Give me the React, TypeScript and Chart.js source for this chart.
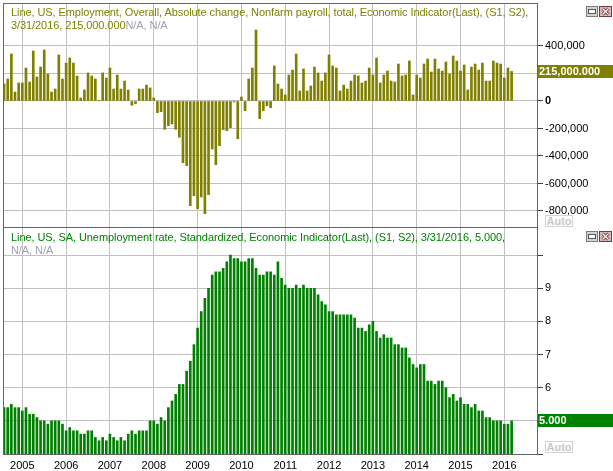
import React, { useEffect, useRef } from "react";
import { Chart, registerables } from "chart.js";

Chart.register(...registerables);

// ---------- data ----------
// Monthly series, Aug 2004 .. Mar 2016 (month index 0 = Jan 2005)
const FIRST_MONTH_INDEX = -5; // Aug 2004
const yearLabels = ["2005", "2006", "2007", "2008", "2009", "2010", "2011", "2012", "2013", "2014", "2015", "2016"];

// Nonfarm payroll absolute change (thousands)
const payrollK = [
  124, 160, 342, 65, 131,
  131, 240, 138, 364, 175, 247, 371, 196, 65, 87, 335, 160,
  276, 313, 276, 182, 22, 80, 204, 182, 160, 2, 204, 167,
  240, 87, 189, 87, 145, 80, -31, -20, 87, 87, 116, 95,
  22, -85, -78, -206, -180, -167, -206, -264, -449, -470, -761, -689,
  -783, -698, -820, -681, -349, -463, -325, -208, -216, -194, -7, -274,
  29, -70, 160, 240, 516, -129, -70, -34, -49, 255, 124, 87,
  44, 189, 225, 342, 73, 233, 73, 109, 247, 204, 145, 204,
  335, 255, 240, 73, 116, 87, 145, 189, 182, 131, 145, 240,
  189, 313, 131, 189, 218, 145, 138, 269, 182, 189, 291, 44,
  189, 167, 269, 305, 211, 305, 233, 218, 284, 196, 327, 291,
  218, 262, 80, 247, 269, 225, 276, 145, 145, 291, 276, 269,
  167, 240, 215,
];

// Unemployment rate (%)
const unemployment = [
  5.4, 5.4, 5.5, 5.4, 5.4,
  5.3, 5.4, 5.2, 5.2, 5.1, 5.0, 5.0, 4.9, 5.0, 5.0, 5.0, 4.9,
  4.7, 4.8, 4.7, 4.7, 4.6, 4.6, 4.7, 4.7, 4.5, 4.4, 4.5, 4.4,
  4.6, 4.5, 4.4, 4.5, 4.4, 4.6, 4.7, 4.6, 4.7, 4.7, 4.7, 5.0,
  5.0, 4.9, 5.1, 5.0, 5.4, 5.6, 5.8, 6.1, 6.1, 6.5, 6.8, 7.3,
  7.8, 8.3, 8.7, 9.0, 9.4, 9.5, 9.5, 9.6, 9.8, 10.0, 9.9, 9.9,
  9.8, 9.8, 9.9, 9.9, 9.6, 9.4, 9.4, 9.5, 9.5, 9.4, 9.8, 9.3,
  9.1, 9.0, 9.0, 9.1, 9.0, 9.1, 9.0, 9.0, 9.0, 8.8, 8.6, 8.5,
  8.3, 8.3, 8.2, 8.2, 8.2, 8.2, 8.2, 8.1, 7.8, 7.8, 7.7, 7.9,
  8.0, 7.7, 7.5, 7.6, 7.5, 7.5, 7.3, 7.3, 7.2, 7.2, 6.9, 6.7,
  6.6, 6.7, 6.7, 6.2, 6.2, 6.1, 6.2, 6.2, 6.0, 5.7, 5.8, 5.6,
  5.7, 5.5, 5.5, 5.4, 5.5, 5.3, 5.3, 5.1, 5.1, 5.0, 5.0, 5.0,
  4.9, 4.9, 5.0,
];

const payrollTicks = [-800000, -600000, -400000, -200000, 0, 200000, 400000];
const payrollHiddenTicks = [200000];
const unempTicks = [4, 5, 6, 7, 8, 9, 10];
const unempShownTicks = [6, 7, 8, 9];

const payrollHeader1 = "Line, US, Employment, Overall, Absolute change, Nonfarm payroll, total, Economic Indicator(Last), (S1, S2),";
const payrollHeader2a = "3/31/2016, 215,000.000";
const payrollHeader2b = "N/A, N/A";
const unempHeader1 = "Line, US, SA, Unemployment rate, Standardized, Economic Indicator(Last), (S1, S2), 3/31/2016, 5.000,";
const unempHeader2 = "N/A, N/A";
const payrollLastLabel = "215,000.000";
const unempLastLabel = "5.000";

// ---------- style ----------
const FONT = '"Liberation Sans", Arial, sans-serif';
const OLIVE = "#808000";
const GREEN = "#008000";
const GRID = "#c0c0c0";
const FRAME = "#646464";
const X_MIN = -5.29;
const X_MAX = 140.95;

const yearTickValues = yearLabels.map((_, i) => i * 12);

function frameAndBoxPlugin(value: number, label: string, color: string, drawTop: boolean) {
  return {
    id: "frameBox",
    afterDraw(chart: any) {
      const { ctx, chartArea: a } = chart;
      ctx.save();
      ctx.strokeStyle = FRAME;
      ctx.lineWidth = 1;
      ctx.beginPath();
      ctx.moveTo(a.left + 0.5, a.top);
      ctx.lineTo(a.left + 0.5, a.bottom);
      if (drawTop) {
        ctx.moveTo(a.left, a.top + 0.5);
        ctx.lineTo(a.right, a.top + 0.5);
      }
      ctx.stroke();
      const y = chart.scales.y.getPixelForValue(value);
      const top = Math.round(y - 6.5);
      ctx.fillStyle = color;
      ctx.fillRect(a.right + 1, top, chart.width - a.right - 1, 13);
      ctx.fillStyle = "#ffffff";
      ctx.font = "bold 11px " + FONT;
      ctx.textBaseline = "middle";
      ctx.textAlign = "left";
      ctx.fillText(label, a.right + 2, top + 7);
      ctx.restore();
    },
  };
}

function baseX(showLabels: boolean, height: number) {
  return {
    type: "linear",
    min: X_MIN,
    max: X_MAX,
    bounds: "data",
    offset: false,
    afterBuildTicks: (scale: any) => {
      scale.ticks = yearTickValues.map((v) => ({ value: v }));
    },
    afterFit: (scale: any) => {
      scale.height = height;
      scale.paddingLeft = 0;
      scale.paddingRight = 0;
    },
    grid: { color: GRID, offset: false, drawTicks: false },
    border: { display: showLabels, color: FRAME },
    ticks: {
      display: showLabels,
      autoSkip: false,
      maxRotation: 0,
      padding: 5,
      color: "#000000",
      font: { family: FONT, size: 11 },
      callback: (v: number) => yearLabels[Math.round(v / 12)] ?? "",
    },
  };
}

function TopChart() {
  const ref = useRef<HTMLCanvasElement>(null);
  useEffect(() => {
    const data = payrollK.map((v, i) => ({ x: FIRST_MONTH_INDEX + i, y: v * 1000 }));
    const chart = new Chart(ref.current!, {
      type: "bar",
      data: {
        datasets: [
          {
            data,
            backgroundColor: OLIVE,
            borderWidth: 0,
            barThickness: 2,
          } as any,
        ],
      },
      options: {
        animation: false,
        responsive: false,
        devicePixelRatio: 1,
        layout: { padding: { left: 3, top: 3, right: 0, bottom: 0 } },
        plugins: { legend: { display: false }, tooltip: { enabled: false }, title: { display: false } },
        scales: {
          x: baseX(false, 0) as any,
          y: {
            type: "linear",
            position: "right",
            min: -916400,
            max: 712700,
            bounds: "data",
            afterBuildTicks: (scale: any) => {
              scale.ticks = payrollTicks.map((v) => ({ value: v }));
            },
            afterFit: (scale: any) => {
              scale.width = 76;
              scale.paddingTop = 0;
              scale.paddingBottom = 0;
            },
            grid: { color: GRID, tickColor: "#404040", tickLength: 6 },
            border: { display: true, color: FRAME },
            ticks: {
              padding: 2,
              color: "#000000",
              font: (ctx: any) => ({
                family: FONT,
                size: 11,
                weight: ctx.tick && ctx.tick.value === 0 ? "bold" : "normal",
              }),
              callback: (v: number) =>
                payrollHiddenTicks.includes(v) ? "" : v.toLocaleString("en-US"),
            },
          } as any,
        },
      },
      plugins: [frameAndBoxPlugin(payrollK[payrollK.length - 1] * 1000, payrollLastLabel, OLIVE, true)],
    });
    return () => chart.destroy();
  }, []);
  return <canvas ref={ref} width={613} height={227} style={{ position: "absolute", left: 0, top: 0, width: 613, height: 227 }} />;
}

function BottomChart() {
  const ref = useRef<HTMLCanvasElement>(null);
  useEffect(() => {
    const data = unemployment.map((v, i) => ({ x: FIRST_MONTH_INDEX + i, y: v }));
    const chart = new Chart(ref.current!, {
      type: "bar",
      data: {
        datasets: [
          {
            data,
            backgroundColor: GREEN,
            borderWidth: 0,
            barThickness: 2,
          } as any,
        ],
      },
      options: {
        animation: false,
        responsive: false,
        devicePixelRatio: 1,
        layout: { padding: { left: 3, top: 0, right: 0, bottom: 0 } },
        plugins: { legend: { display: false }, tooltip: { enabled: false }, title: { display: false } },
        scales: {
          x: baseX(true, 17) as any,
          y: {
            type: "linear",
            position: "right",
            min: 4.0,
            max: 10.85,
            bounds: "data",
            afterBuildTicks: (scale: any) => {
              scale.ticks = unempTicks.map((v) => ({ value: v }));
            },
            afterFit: (scale: any) => {
              scale.width = 76;
              scale.paddingTop = 0;
              scale.paddingBottom = 0;
            },
            grid: { color: GRID, tickColor: "#404040", tickLength: 6 },
            border: { display: true, color: FRAME },
            ticks: {
              padding: 2,
              color: "#000000",
              font: { family: FONT, size: 11 },
              callback: (v: number) => (unempShownTicks.includes(v) ? String(v) : ""),
            },
          } as any,
        },
      },
      plugins: [frameAndBoxPlugin(unemployment[unemployment.length - 1], unempLastLabel, GREEN, true)],
    });
    return () => chart.destroy();
  }, []);
  return <canvas ref={ref} width={613} height={244} style={{ position: "absolute", left: 0, top: 227, width: 613, height: 244 }} />;
}

function RestoreIcon({ left, top }: { left: number; top: number }) {
  return (
    <svg width={12} height={12} style={{ position: "absolute", left, top }}>
      <rect x={0.5} y={0.5} width={11} height={10} fill="#d4d4d4" stroke="#7c7c7c" />
      <rect x={2.5} y={3.5} width={7} height={4} fill="#ffffff" stroke="#505050" />
    </svg>
  );
}

function CloseIcon({ left, top }: { left: number; top: number }) {
  return (
    <svg width={13} height={12} style={{ position: "absolute", left, top }}>
      <rect x={0.5} y={0.5} width={12} height={10} fill="#d8b8b8" stroke="#7a3a3a" />
      <path d="M3.5 2.5 L9.5 8.5 M9.5 2.5 L3.5 8.5" stroke="#6a2a2a" strokeWidth={3} />
      <path d="M3.5 2.5 L9.5 8.5 M9.5 2.5 L3.5 8.5" stroke="#ffffff" strokeWidth={1.3} />
    </svg>
  );
}

function AutoBox({ top }: { top: number }) {
  return (
    <div
      style={{
        position: "absolute",
        left: 545,
        top,
        width: 26,
        height: 10,
        border: "1px solid #d4d4d4",
        color: "#c8c8c8",
        font: "bold 11px " + FONT,
        lineHeight: "10px",
        textAlign: "center",
        background: "#ffffff",
      }}
    >
      Auto
    </div>
  );
}

const headerStyle: React.CSSProperties = {
  position: "absolute",
  left: 11,
  font: "11px " + FONT,
  lineHeight: "13px",
  letterSpacing: "-0.08px",
  whiteSpace: "nowrap",
};

export default function App() {
  useEffect(() => {
    document.body.style.margin = "0";
  }, []);
  return (
    <div style={{ position: "fixed", left: 0, top: 0, width: 613, height: 471, background: "#ffffff", overflow: "hidden" }}>
      <TopChart />
      <BottomChart />
      <div style={{ ...headerStyle, top: 6, color: OLIVE }}>{payrollHeader1}</div>
      <div style={{ ...headerStyle, top: 19 }}>
        <span style={{ color: OLIVE }}>{payrollHeader2a}</span>
        <span style={{ color: "#a0a0b0" }}>{payrollHeader2b}</span>
      </div>
      <div style={{ ...headerStyle, top: 231, color: GREEN }}>{unempHeader1}</div>
      <div style={{ ...headerStyle, top: 244, color: "#a0a0b0" }}>{unempHeader2}</div>
      <RestoreIcon left={586} top={6} />
      <CloseIcon left={599} top={6} />
      <RestoreIcon left={586} top={231} />
      <CloseIcon left={599} top={231} />
      <AutoBox top={215} />
      <AutoBox top={441} />
    </div>
  );
}
